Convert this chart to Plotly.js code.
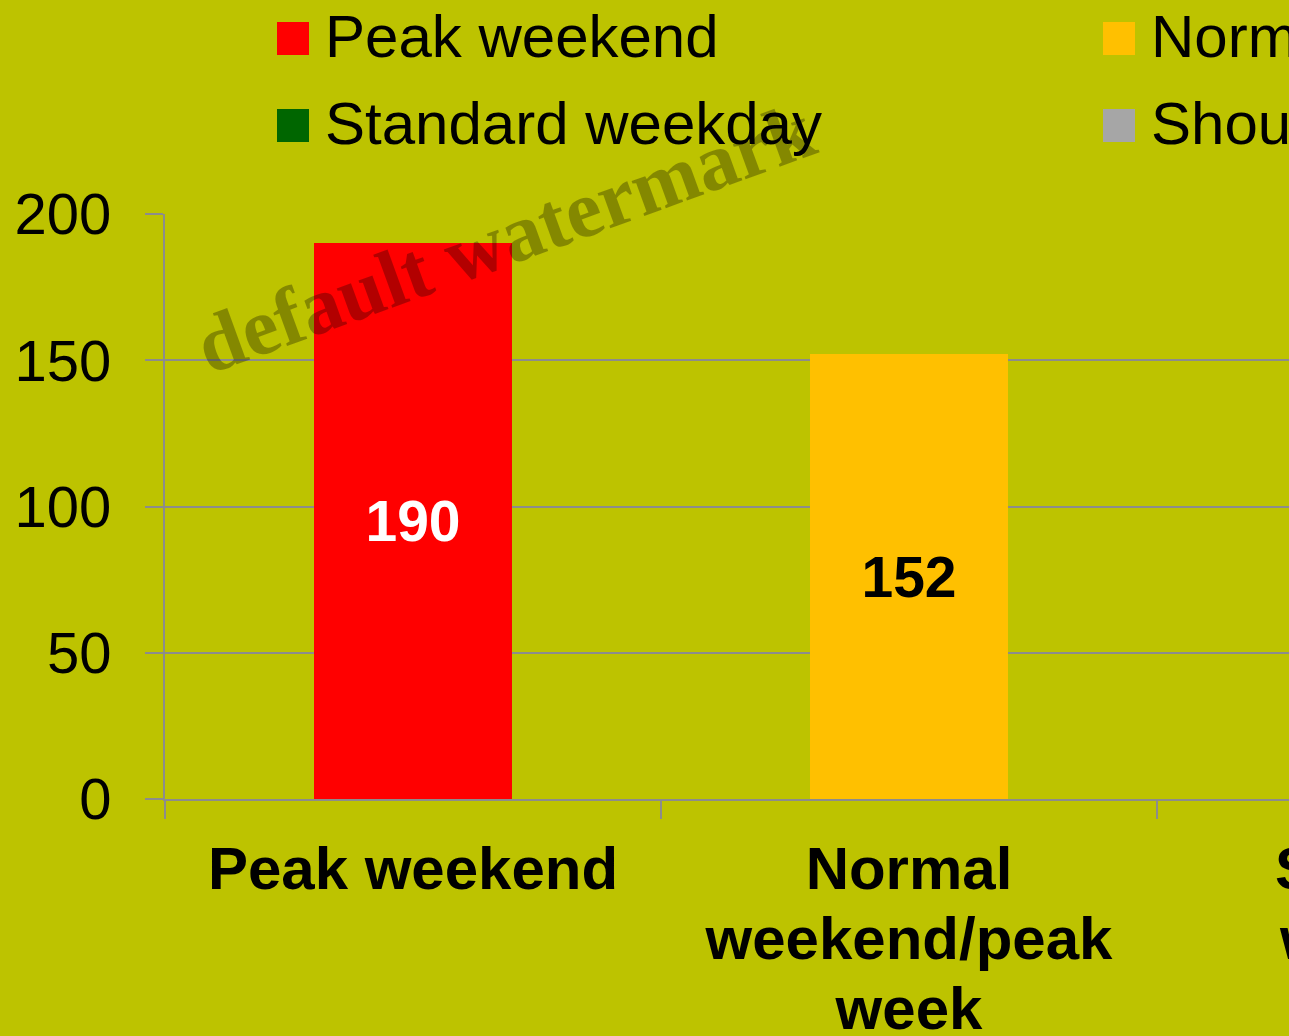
<!DOCTYPE html>
<html>
<head>
<meta charset="utf-8">
<script src="https://cdn.plot.ly/plotly-3.0.1.min.js"></script>
<style>
  html, body { margin: 0; padding: 0; overflow: hidden; background: #BDC300; }
  #chart { width: 2200px; height: 1036px; }
</style>
</head>
<body>
<div id="chart"></div>
<script>
// ---- data ----
var seriesNames = ["Peak weekend", "Normal weekend/peak week", "Standard weekday", "Shoulder weekday"];
var categoryLabels = ["Peak weekend", "Normal<br>weekend/peak<br>week", "Standard<br>weekday", "Shoulder<br>weekday"];
var values = [190, 152, 110, 80];
var barColors = ["#FF0000", "#FFC000", "#006600", "#A6A6A6"];
var labelColors = ["#FFFFFF", "#000000", "#FFFFFF", "#000000"];
var yTicks = [0, 50, 100, 150, 200];

var FONT = "Liberation Sans, Arial, sans-serif";

var traces = seriesNames.map(function (name, i) {
  return {
    type: "bar",
    name: name,
    x: [categoryLabels[i]],
    y: [values[i]],
    width: 0.4,
    marker: { color: barColors[i], line: { width: 0 } },
    text: [String(values[i])],
    textposition: "inside",
    insidetextanchor: "middle",
    textfont: { family: FONT, size: 57, color: labelColors[i], weight: "bold" },
    hoverinfo: "x+y"
  };
});

var layout = {
  width: 2200,
  height: 1036,
  margin: { l: 165, r: 51, t: 214, b: 237, autoexpand: false },
  paper_bgcolor: "#BDC300",
  plot_bgcolor: "#BDC300",
  barmode: "stack",
  font: { family: FONT, color: "#000000" },
  showlegend: true,
  legend: {
    orientation: "h",
    x: (265 - 165) / 1984,
    xanchor: "left",
    y: 1 + (214 + 12) / 585,
    yanchor: "top",
    bgcolor: "rgba(0,0,0,0)",
    font: { family: FONT, size: 60, color: "#000000" },
    itemwidth: 50,
    entrywidth: 761,
    traceorder: "normal"
  },
  xaxis: {
    categoryorder: "array",
    categoryarray: categoryLabels,
    tickson: "boundaries",
    ticks: "outside",
    ticklen: 18,
    tickwidth: 2,
    tickcolor: "#8C8C8C",
    showline: true,
    linecolor: "#8C8C8C",
    linewidth: 2,
    showgrid: false,
    ticklabelstandoff: 16,
    tickfont: { family: FONT, size: 60, color: "#000000", weight: "bold" },
    fixedrange: true
  },
  yaxis: {
    range: [0, 200],
    tickvals: yTicks,
    ticktext: yTicks.map(String),
    ticks: "outside",
    ticklen: 18,
    tickwidth: 2,
    tickcolor: "#8C8C8C",
    showline: true,
    linecolor: "#8C8C8C",
    linewidth: 2,
    showgrid: true,
    gridcolor: "#8C8C8C",
    gridwidth: 2,
    zeroline: false,
    ticklabelstandoff: 22,
    tickfont: { family: FONT, size: 58, color: "#000000" },
    fixedrange: true
  },
  annotations: [{
    text: "default watermark",
    xref: "paper", yref: "paper",
    x: (505 - 165) / 1984,
    y: (799 - 238) / 585,
    xanchor: "center", yanchor: "middle",
    showarrow: false,
    textangle: -20,
    font: { family: "Liberation Serif, Times New Roman, serif", size: 81, color: "rgba(0,0,0,0.3)", weight: "bold" }
  }]
};

Plotly.newPlot("chart", traces, layout, { displayModeBar: false, staticPlot: true }).then(function (gd) {
  // enlarge legend swatches
  gd.querySelectorAll(".legend g.traces").forEach(function (g, i) {
    var t = g.querySelector(".legendtext");
    var tx = t ? parseFloat(t.getAttribute("x")) || 60 : 60;
    g.querySelectorAll(".legendpoints path").forEach(function (p) {
      p.setAttribute("d", "M16,16.5H-16V-16.5H16Z");
      p.setAttribute("transform", "translate(" + (tx - 32) + ",5)");
    });
    if (i >= 2) {
      var tr = g.getAttribute("transform") || "";
      var m = /translate\(\s*([-\d.]+)[ ,]+([-\d.]+)\s*\)/.exec(tr);
      if (m) g.setAttribute("transform", "translate(" + m[1] + "," + (parseFloat(m[2]) + 6) + ")");
    }
  });
  // tighter line spacing for multi-line category labels (dy is measured from the first line)
  gd.querySelectorAll(".xtick text").forEach(function (txt) {
    var lines = txt.querySelectorAll("tspan.line");
    lines.forEach(function (ts, k) {
      ts.setAttribute("dy", (k * 1.17) + "em");
    });
  });
});
</script>
</body>
</html>
